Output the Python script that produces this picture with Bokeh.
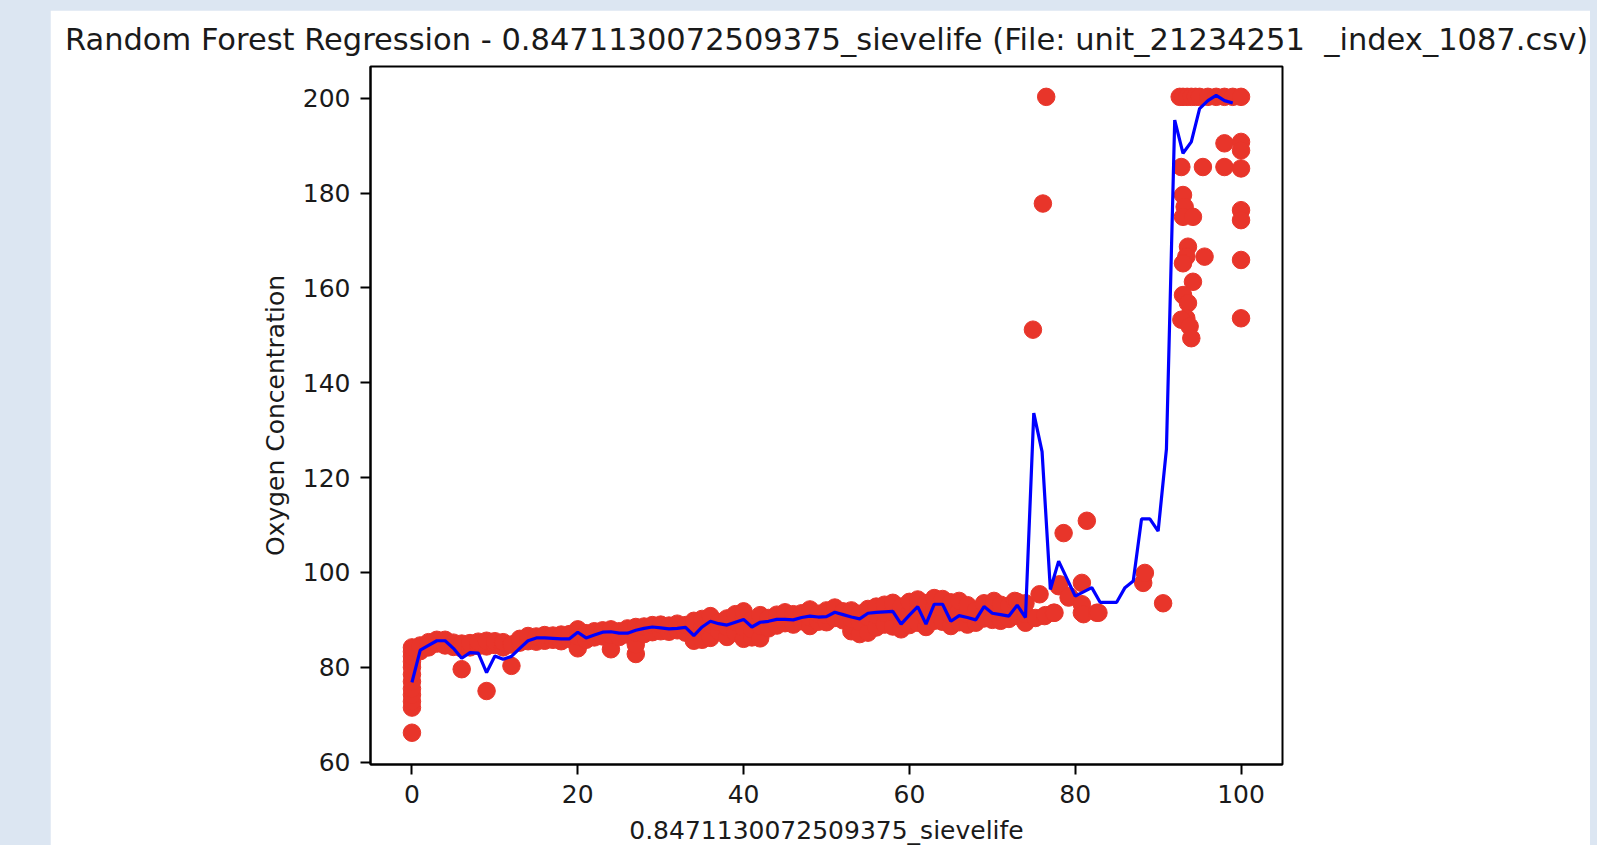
import re
from bokeh.plotting import figure
from bokeh.models import Range1d, FixedTicker
from bokeh.embed import file_html
from bokeh.resources import INLINE

# ---------------- data ----------------
title_text = "Random Forest Regression - 0.8471130072509375_sievelife (File: unit_21234251\u00a0 _index_1087.csv)"
x_label = "0.8471130072509375_sievelife"
y_label = "Oxygen Concentration"
x_ticks = [0, 20, 40, 60, 80, 100]
y_ticks = [60, 80, 100, 120, 140, 160, 180, 200]

# observed points (red)
sx = [0]*12 + [
    1, 1, 2, 2, 3, 3, 4, 4, 5, 5, 6, 6, 6, 7, 7, 8, 8, 9, 9, 9, 10, 10, 11, 11, 12, 12,
    13, 13, 14, 14, 15, 15, 16, 16, 17, 17, 18, 18, 19, 19, 20, 20, 20, 21, 21, 22, 22,
    23, 23, 24, 24, 24, 25, 25, 26, 26, 27, 27, 27, 27, 28, 28, 29, 29, 30, 30, 31, 31,
    32, 32, 33, 33, 34, 34, 34, 35, 35, 35, 36, 36, 36, 37, 37, 38, 38, 38, 39, 39, 39,
    40, 40, 40, 40, 41, 41, 41, 42, 42, 42, 43, 43, 44, 44, 45, 45, 46, 46, 47, 47,
    48, 48, 48, 49, 49, 50, 50, 50, 51, 51, 52, 52, 53, 53, 53, 54, 54, 54, 55, 55, 55,
    56, 56, 56, 57, 57, 57, 58, 58, 58, 59, 59, 59, 60, 60, 60, 61, 61, 61, 62, 62, 62,
    63, 63, 63, 64, 64, 64, 65, 65, 65, 66, 66, 66, 67, 67, 67, 68, 68, 69, 69, 70, 70,
    70.2, 71, 71, 71, 72, 72, 72.7, 73, 73, 74, 74, 74,
    74.9, 75.7, 75.2, 76.1, 76.5, 76.3, 76.4, 77.4, 77.5, 78.0, 78.1, 78.6, 79.2, 79.3,
    80.8, 80.8, 80.8, 81.0, 81.4, 82.6, 82.8, 88.2, 88.4, 90.6,
    92.6, 93.0, 93.5, 94.0, 94.5, 95.0, 96.0, 97.0, 98.0, 99.0, 100.0,
    98.0, 100.0, 100.0, 92.8, 95.4, 98.0, 100.0,
    93.0, 93.2, 93.0, 94.2, 100.0, 100.0,
    93.6, 93.4, 93.0, 95.6, 100.0,
    94.2, 93.0, 93.6, 93.4, 92.8, 93.8, 94.0, 100.0,
]
sy = [66.2, 71.5, 72.8, 74.2, 75.5, 77.0, 78.5, 80.0, 81.2, 82.3, 83.3, 84.2] + [
    83.4, 84.6, 84.2, 85.3, 85.0, 85.8, 84.6, 85.8, 84.3, 85.2, 79.6, 84.0, 85.0, 84.2, 85.1,
    84.5, 85.4, 75.0, 84.4, 85.6, 84.7, 85.5, 84.2, 85.3, 80.3, 84.8,
    85.2, 86.0, 85.5, 86.6, 85.4, 86.5, 85.6, 86.8, 85.8, 86.7, 85.5, 86.9, 86.0, 87.0,
    84.0, 86.5, 88.0, 85.8, 87.2, 86.3, 87.6,
    86.5, 87.8, 83.8, 86.8, 88.0, 86.4, 87.6, 86.9, 88.2, 82.8, 84.8, 87.3, 88.5,
    87.0, 88.6, 87.4, 88.9, 87.6, 89.0, 87.5, 88.8,
    87.8, 89.2, 87.3, 88.9, 85.6, 87.5, 89.8, 85.8, 88.6, 90.2, 86.2, 89.0, 90.8,
    87.6, 89.5, 86.4, 88.5, 90.3, 87.3, 89.6, 91.2,
    86.0, 88.4, 90.5, 91.8, 86.3, 88.0, 90.0, 86.1, 88.7, 91.0, 88.2, 90.4, 88.8, 91.1,
    89.3, 91.6, 89.0, 91.2, 89.7, 91.4,
    88.7, 90.5, 92.2, 89.6, 91.3, 89.5, 91.0, 92.0, 90.4, 92.6, 89.9, 91.8,
    87.6, 90.2, 92.0, 87.0, 89.5, 91.3, 87.3, 90.6, 92.3,
    88.4, 91.0, 92.8, 89.0, 91.4, 93.2, 88.6, 91.6, 93.6, 88.0, 90.2, 92.8,
    88.9, 91.5, 93.8, 89.4, 92.0, 94.3, 88.5, 90.6, 93.5,
    89.8, 92.5, 94.6, 89.6, 92.4, 94.4, 88.7, 91.0, 93.7, 89.5, 91.9, 94.0,
    89.0, 91.2, 93.1, 89.4, 92.0, 90.3, 93.5, 90.0, 92.4,
    94.0, 89.8, 91.6, 93.2, 90.2, 93.0, 94.0, 90.8, 93.8, 89.4, 91.2, 93.5,
    151.2, 95.4, 90.4, 177.8, 200.3, 90.8, 91.0, 91.5, 91.5, 97.1, 97.5, 108.3, 94.7, 95.0,
    97.8, 91.5, 93.3, 91.2, 110.9, 91.5, 91.5, 97.8, 99.9, 93.5,
    200.3, 200.3, 200.3, 200.3, 200.3, 200.3, 200.3, 200.3, 200.3, 200.3, 200.3,
    190.5, 190.8, 189.0, 185.5, 185.5, 185.5, 185.2,
    179.6, 177.1, 175.0, 175.0, 176.4, 174.3,
    168.7, 166.6, 165.2, 166.6, 165.9,
    161.3, 158.5, 156.8, 153.6, 153.3, 151.9, 149.4, 153.6,
]

# model prediction (blue line)
line_x = list(range(100))
line_y = [
    76.8, 83.6, 84.6, 85.6, 85.6, 84.0, 81.9, 83.1, 83.0, 78.9,
    82.4, 81.7, 82.3, 84.0, 85.6, 86.2, 86.2, 86.1, 86.0, 86.0,
    87.4, 86.2, 86.8, 87.4, 87.5, 87.2, 87.2, 87.8, 88.2, 88.5,
    88.3, 88.1, 88.2, 88.4, 86.7, 88.5, 89.7, 89.2, 88.9, 89.5,
    90.1, 88.5, 89.5, 89.7, 90.1, 90.1, 90.0, 90.5, 90.8, 90.6,
    90.7, 91.6, 91.1, 90.6, 90.2, 91.4, 91.6, 91.7, 91.8, 89.1,
    91.0, 92.8, 89.1, 93.3, 93.3, 89.7, 90.9, 90.5, 90.0, 92.8,
    91.4, 91.1, 90.8, 93.1, 90.5, 133.6, 125.5, 96.4, 102.4, 98.7,
    95.0, 95.9, 96.8, 93.7, 93.7, 93.7, 96.8, 98.2, 111.3, 111.3,
    108.7, 126.0, 195.4, 188.4, 190.8, 197.8, 199.5, 200.6, 199.5, 199.0,
]

# ---------------- figure ----------------
FONT = "DejaVu Sans"
TXT = "#1a1a1a"

p = figure(
    output_backend="svg", toolbar_location=None,
    frame_width=912, frame_height=698,
    min_border_left=320, min_border_right=308, min_border_top=56, min_border_bottom=90,
    x_range=Range1d(-5, 105), y_range=Range1d(59.5, 206.7),
    margin=(10, 0, 0, 50),
    background_fill_color="white", border_fill_color="white",
    title=title_text,
)
p.title.text_font = FONT
p.title.text_font_size = "30.5px"
p.title.text_font_style = "normal"
p.title.text_color = TXT
p.title.align = "center"
p.title.standoff = 19

p.xgrid.visible = False
p.ygrid.visible = False
p.outline_line_color = "black"
p.outline_line_width = 2

for ax in (p.xaxis, p.yaxis):
    ax.axis_line_width = 2
    ax.major_tick_line_width = 2
    ax.major_tick_out = 10
    ax.major_tick_in = 0
    ax.minor_tick_out = 0
    ax.minor_tick_in = 0
    ax.major_label_standoff = 10
    ax.major_label_text_font = FONT
    ax.major_label_text_font_size = "25px"
    ax.major_label_text_color = TXT
    ax.axis_label_text_font = FONT
    ax.axis_label_text_font_size = "25px"
    ax.axis_label_text_font_style = "normal"
    ax.axis_label_text_color = TXT

p.xaxis.ticker = FixedTicker(ticks=x_ticks)
p.yaxis.ticker = FixedTicker(ticks=y_ticks)
p.xaxis.axis_label = x_label
p.yaxis.axis_label = y_label
p.xaxis.axis_label_standoff = 10
p.yaxis.axis_label_standoff = 10

p.scatter(sx, sy, size=17.5, marker="circle", fill_color="#e8352a", line_color="#e8352a")
p.line(line_x, line_y, line_color="#0000ff", line_width=3.2)

html = file_html(p, INLINE)
html = html.replace("</head>", "<style>html, body { background-color: #dce6f2 !important; }</style></head>", 1)
html = re.sub(r"<body[^>]*>", '<body style="background-color:#dce6f2; overflow:hidden;">', html, count=1)
open("out.html", "w").write(html)
